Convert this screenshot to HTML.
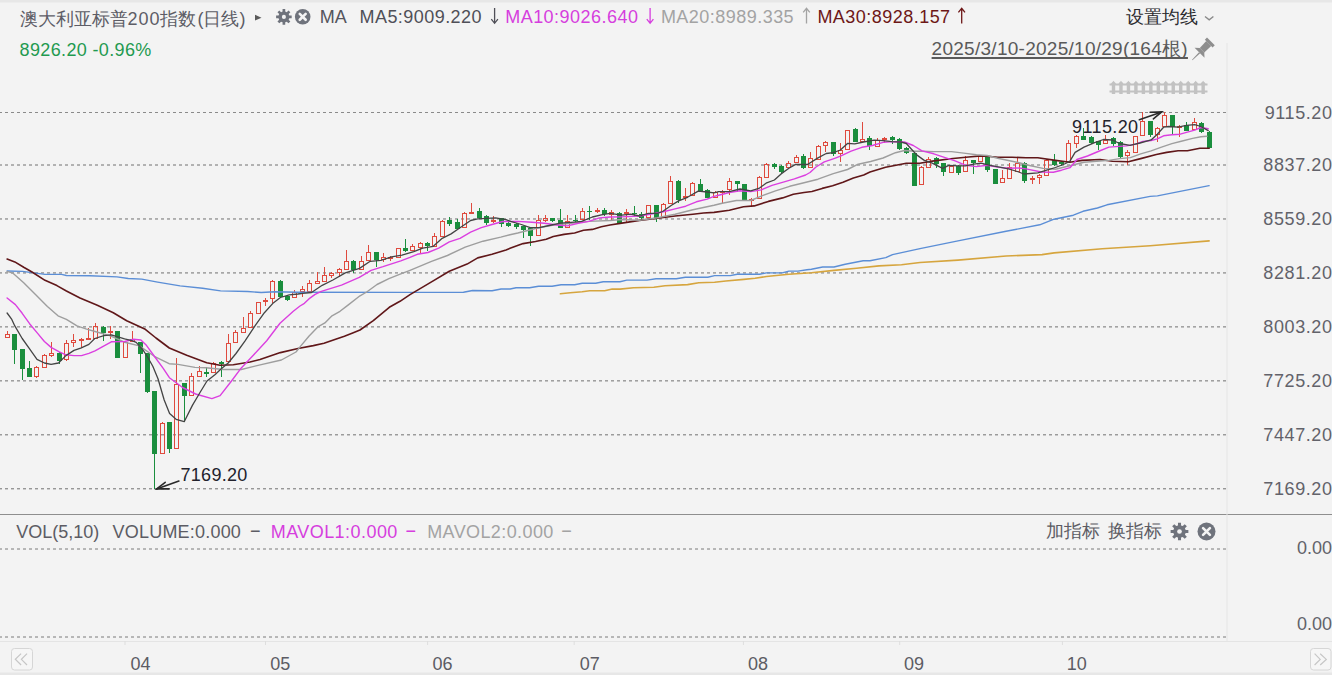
<!DOCTYPE html>
<html><head><meta charset="utf-8"><style>
html,body{margin:0;padding:0;}
body{width:1332px;height:675px;overflow:hidden;background:#f3f3f3;position:relative;font-family:"Liberation Sans",sans-serif;}
svg{position:absolute;left:0;top:0;}
.t{position:absolute;white-space:nowrap;line-height:24px;}
.ra{right:0;}
</style></head><body>
<svg width="1332" height="675" viewBox="0 0 1332 675">
<line x1="-1" y1="112.5" x2="1226" y2="112.5" stroke="#8a8a8a" stroke-width="1" stroke-dasharray="3 3"/>
<line x1="-1" y1="165" x2="1226" y2="165" stroke="#707070" stroke-width="1" stroke-dasharray="3 3"/>
<line x1="-1" y1="218.97" x2="1226" y2="218.97" stroke="#707070" stroke-width="1" stroke-dasharray="3 3"/>
<line x1="-1" y1="272.93" x2="1226" y2="272.93" stroke="#707070" stroke-width="1" stroke-dasharray="3 3"/>
<line x1="-1" y1="326.9" x2="1226" y2="326.9" stroke="#707070" stroke-width="1" stroke-dasharray="3 3"/>
<line x1="-1" y1="380.87" x2="1226" y2="380.87" stroke="#707070" stroke-width="1" stroke-dasharray="3 3"/>
<line x1="-1" y1="434.83" x2="1226" y2="434.83" stroke="#707070" stroke-width="1" stroke-dasharray="3 3"/>
<line x1="-1" y1="488.8" x2="1226" y2="488.8" stroke="#707070" stroke-width="1" stroke-dasharray="3 3"/>
<line x1="-1" y1="549" x2="1226" y2="549" stroke="#7a7a7a" stroke-width="1" stroke-dasharray="3 3"/>
<line x1="-1" y1="637" x2="1226" y2="637" stroke="#7a7a7a" stroke-width="1" stroke-dasharray="3 3"/>
<rect x="7" y="331" width="1" height="3" fill="#df4a3e"/>
<rect x="5.5" y="334.5" width="4" height="3" fill="none" stroke="#df4a3e" stroke-width="1"/>
<rect x="14" y="334" width="1" height="30" fill="#1a8e3d"/>
<rect x="12" y="334" width="5" height="16" fill="#1a8e3d"/>
<rect x="22" y="349" width="1" height="31" fill="#1a8e3d"/>
<rect x="20" y="349" width="5" height="20" fill="#1a8e3d"/>
<rect x="29" y="361" width="1" height="16" fill="#1a8e3d"/>
<rect x="27" y="368" width="5" height="9" fill="#1a8e3d"/>
<rect x="36" y="366" width="1" height="1" fill="#df4a3e"/>
<rect x="36" y="377" width="1" height="1" fill="#df4a3e"/>
<rect x="34.5" y="367.5" width="4" height="9" fill="none" stroke="#df4a3e" stroke-width="1"/>
<rect x="44" y="354" width="1" height="1" fill="#df4a3e"/>
<rect x="42.5" y="355.5" width="4" height="12" fill="none" stroke="#df4a3e" stroke-width="1"/>
<rect x="51" y="342" width="1" height="11" fill="#df4a3e"/>
<rect x="51" y="356" width="1" height="1" fill="#df4a3e"/>
<rect x="49.5" y="353.5" width="4" height="2" fill="none" stroke="#df4a3e" stroke-width="1"/>
<rect x="59" y="352" width="1" height="12" fill="#1a8e3d"/>
<rect x="57" y="353" width="5" height="8" fill="#1a8e3d"/>
<rect x="66" y="340" width="1" height="3" fill="#df4a3e"/>
<rect x="66" y="360" width="1" height="1" fill="#df4a3e"/>
<rect x="64.5" y="343.5" width="4" height="16" fill="none" stroke="#df4a3e" stroke-width="1"/>
<rect x="73" y="334" width="1" height="6" fill="#df4a3e"/>
<rect x="73" y="343" width="1" height="4" fill="#df4a3e"/>
<rect x="71.5" y="340.5" width="4" height="2" fill="none" stroke="#df4a3e" stroke-width="1"/>
<rect x="81" y="338" width="1" height="1" fill="#df4a3e"/>
<rect x="81" y="340" width="1" height="7" fill="#df4a3e"/>
<rect x="79" y="339" width="5" height="2" fill="#df4a3e"/>
<rect x="88" y="328" width="1" height="10" fill="#df4a3e"/>
<rect x="86" y="338" width="5" height="2" fill="#df4a3e"/>
<rect x="95" y="323" width="1" height="3" fill="#df4a3e"/>
<rect x="93.5" y="326.5" width="4" height="12" fill="none" stroke="#df4a3e" stroke-width="1"/>
<rect x="103" y="326" width="1" height="15" fill="#1a8e3d"/>
<rect x="101" y="327" width="5" height="6" fill="#1a8e3d"/>
<rect x="110" y="326" width="1" height="5" fill="#df4a3e"/>
<rect x="110" y="333" width="1" height="6" fill="#df4a3e"/>
<rect x="108" y="331" width="5" height="2" fill="#df4a3e"/>
<rect x="117" y="331" width="1" height="27" fill="#1a8e3d"/>
<rect x="115" y="331" width="5" height="27" fill="#1a8e3d"/>
<rect x="123.5" y="342.5" width="4" height="15" fill="none" stroke="#df4a3e" stroke-width="1"/>
<rect x="132" y="331" width="1" height="8" fill="#df4a3e"/>
<rect x="130.5" y="339.5" width="4" height="2" fill="none" stroke="#df4a3e" stroke-width="1"/>
<rect x="140" y="342" width="1" height="31" fill="#1a8e3d"/>
<rect x="138" y="342" width="5" height="12" fill="#1a8e3d"/>
<rect x="147" y="353" width="1" height="40" fill="#1a8e3d"/>
<rect x="145" y="353" width="5" height="39" fill="#1a8e3d"/>
<rect x="154" y="391" width="1" height="98" fill="#1a8e3d"/>
<rect x="152" y="391" width="5" height="63" fill="#1a8e3d"/>
<rect x="162" y="422" width="1" height="1" fill="#df4a3e"/>
<rect x="160.5" y="423.5" width="4" height="30" fill="none" stroke="#df4a3e" stroke-width="1"/>
<rect x="169" y="422" width="1" height="31" fill="#1a8e3d"/>
<rect x="167" y="422" width="5" height="27" fill="#1a8e3d"/>
<rect x="176" y="358" width="1" height="26" fill="#df4a3e"/>
<rect x="174.5" y="384.5" width="4" height="64" fill="none" stroke="#df4a3e" stroke-width="1"/>
<rect x="184" y="383" width="1" height="39" fill="#1a8e3d"/>
<rect x="182" y="383" width="5" height="13" fill="#1a8e3d"/>
<rect x="191" y="373" width="1" height="3" fill="#df4a3e"/>
<rect x="189.5" y="376.5" width="4" height="19" fill="none" stroke="#df4a3e" stroke-width="1"/>
<rect x="199" y="366" width="1" height="5" fill="#df4a3e"/>
<rect x="197.5" y="371.5" width="4" height="5" fill="none" stroke="#df4a3e" stroke-width="1"/>
<rect x="206" y="367" width="1" height="10" fill="#1a8e3d"/>
<rect x="204" y="372" width="5" height="2" fill="#1a8e3d"/>
<rect x="213" y="362" width="1" height="1" fill="#df4a3e"/>
<rect x="211.5" y="363.5" width="4" height="9" fill="none" stroke="#df4a3e" stroke-width="1"/>
<rect x="221" y="361" width="1" height="16" fill="#1a8e3d"/>
<rect x="219" y="362" width="5" height="2" fill="#1a8e3d"/>
<rect x="228" y="334" width="1" height="9" fill="#df4a3e"/>
<rect x="226.5" y="343.5" width="4" height="18" fill="none" stroke="#df4a3e" stroke-width="1"/>
<rect x="235" y="330" width="1" height="2" fill="#df4a3e"/>
<rect x="233.5" y="332.5" width="4" height="10" fill="none" stroke="#df4a3e" stroke-width="1"/>
<rect x="243" y="317" width="1" height="11" fill="#df4a3e"/>
<rect x="241.5" y="328.5" width="4" height="4" fill="none" stroke="#df4a3e" stroke-width="1"/>
<rect x="250" y="311" width="1" height="2" fill="#df4a3e"/>
<rect x="248.5" y="313.5" width="4" height="14" fill="none" stroke="#df4a3e" stroke-width="1"/>
<rect x="256.5" y="302.5" width="4" height="11" fill="none" stroke="#df4a3e" stroke-width="1"/>
<rect x="265" y="298" width="1" height="2" fill="#df4a3e"/>
<rect x="265" y="302" width="1" height="4" fill="#df4a3e"/>
<rect x="263" y="300" width="5" height="2" fill="#df4a3e"/>
<rect x="272" y="280" width="1" height="1" fill="#df4a3e"/>
<rect x="272" y="299" width="1" height="4" fill="#df4a3e"/>
<rect x="270.5" y="281.5" width="4" height="17" fill="none" stroke="#df4a3e" stroke-width="1"/>
<rect x="280" y="280" width="1" height="18" fill="#1a8e3d"/>
<rect x="278" y="281" width="5" height="16" fill="#1a8e3d"/>
<rect x="287" y="295" width="1" height="6" fill="#1a8e3d"/>
<rect x="285" y="296" width="5" height="4" fill="#1a8e3d"/>
<rect x="294" y="290" width="1" height="2" fill="#df4a3e"/>
<rect x="292.5" y="292.5" width="4" height="5" fill="none" stroke="#df4a3e" stroke-width="1"/>
<rect x="302" y="286" width="1" height="3" fill="#df4a3e"/>
<rect x="302" y="292" width="1" height="5" fill="#df4a3e"/>
<rect x="300.5" y="289.5" width="4" height="2" fill="none" stroke="#df4a3e" stroke-width="1"/>
<rect x="309" y="280" width="1" height="3" fill="#df4a3e"/>
<rect x="307.5" y="283.5" width="4" height="8" fill="none" stroke="#df4a3e" stroke-width="1"/>
<rect x="317" y="272" width="1" height="9" fill="#df4a3e"/>
<rect x="315.5" y="281.5" width="4" height="2" fill="none" stroke="#df4a3e" stroke-width="1"/>
<rect x="324" y="267" width="1" height="8" fill="#df4a3e"/>
<rect x="322.5" y="275.5" width="4" height="6" fill="none" stroke="#df4a3e" stroke-width="1"/>
<rect x="331" y="272" width="1" height="1" fill="#df4a3e"/>
<rect x="331" y="276" width="1" height="2" fill="#df4a3e"/>
<rect x="329.5" y="273.5" width="4" height="2" fill="none" stroke="#df4a3e" stroke-width="1"/>
<rect x="339" y="268" width="1" height="1" fill="#df4a3e"/>
<rect x="339" y="273" width="1" height="4" fill="#df4a3e"/>
<rect x="337.5" y="269.5" width="4" height="3" fill="none" stroke="#df4a3e" stroke-width="1"/>
<rect x="346" y="250" width="1" height="11" fill="#df4a3e"/>
<rect x="344.5" y="261.5" width="4" height="8" fill="none" stroke="#df4a3e" stroke-width="1"/>
<rect x="353" y="260" width="1" height="13" fill="#1a8e3d"/>
<rect x="351" y="261" width="5" height="9" fill="#1a8e3d"/>
<rect x="361" y="256" width="1" height="5" fill="#df4a3e"/>
<rect x="359.5" y="261.5" width="4" height="8" fill="none" stroke="#df4a3e" stroke-width="1"/>
<rect x="368" y="245" width="1" height="7" fill="#df4a3e"/>
<rect x="366.5" y="252.5" width="4" height="8" fill="none" stroke="#df4a3e" stroke-width="1"/>
<rect x="376" y="252" width="1" height="15" fill="#1a8e3d"/>
<rect x="374" y="252" width="5" height="8" fill="#1a8e3d"/>
<rect x="383" y="253" width="1" height="4" fill="#df4a3e"/>
<rect x="383" y="260" width="1" height="2" fill="#df4a3e"/>
<rect x="381.5" y="257.5" width="4" height="2" fill="none" stroke="#df4a3e" stroke-width="1"/>
<rect x="390" y="256" width="1" height="1" fill="#df4a3e"/>
<rect x="390" y="259" width="1" height="2" fill="#df4a3e"/>
<rect x="388" y="257" width="5" height="2" fill="#df4a3e"/>
<rect x="396.5" y="248.5" width="4" height="9" fill="none" stroke="#df4a3e" stroke-width="1"/>
<rect x="405" y="239" width="1" height="13" fill="#1a8e3d"/>
<rect x="403" y="248" width="5" height="3" fill="#1a8e3d"/>
<rect x="412" y="244" width="1" height="2" fill="#df4a3e"/>
<rect x="410.5" y="246.5" width="4" height="4" fill="none" stroke="#df4a3e" stroke-width="1"/>
<rect x="420" y="242" width="1" height="1" fill="#df4a3e"/>
<rect x="420" y="248" width="1" height="5" fill="#df4a3e"/>
<rect x="418.5" y="243.5" width="4" height="4" fill="none" stroke="#df4a3e" stroke-width="1"/>
<rect x="427" y="242" width="1" height="9" fill="#1a8e3d"/>
<rect x="425" y="243" width="5" height="3" fill="#1a8e3d"/>
<rect x="434" y="233" width="1" height="3" fill="#df4a3e"/>
<rect x="432.5" y="236.5" width="4" height="10" fill="none" stroke="#df4a3e" stroke-width="1"/>
<rect x="442" y="220" width="1" height="1" fill="#df4a3e"/>
<rect x="440.5" y="221.5" width="4" height="15" fill="none" stroke="#df4a3e" stroke-width="1"/>
<rect x="449" y="217" width="1" height="9" fill="#1a8e3d"/>
<rect x="447" y="220" width="5" height="4" fill="#1a8e3d"/>
<rect x="457" y="219" width="1" height="10" fill="#1a8e3d"/>
<rect x="455" y="222" width="5" height="7" fill="#1a8e3d"/>
<rect x="464" y="212" width="1" height="1" fill="#df4a3e"/>
<rect x="462.5" y="213.5" width="4" height="14" fill="none" stroke="#df4a3e" stroke-width="1"/>
<rect x="471" y="203" width="1" height="9" fill="#df4a3e"/>
<rect x="469" y="212" width="5" height="2" fill="#df4a3e"/>
<rect x="479" y="208" width="1" height="11" fill="#1a8e3d"/>
<rect x="477" y="211" width="5" height="7" fill="#1a8e3d"/>
<rect x="486" y="215" width="1" height="10" fill="#1a8e3d"/>
<rect x="484" y="216" width="5" height="7" fill="#1a8e3d"/>
<rect x="493" y="216" width="1" height="4" fill="#df4a3e"/>
<rect x="493" y="222" width="1" height="1" fill="#df4a3e"/>
<rect x="491" y="220" width="5" height="2" fill="#df4a3e"/>
<rect x="501" y="218" width="1" height="9" fill="#1a8e3d"/>
<rect x="499" y="218" width="5" height="6" fill="#1a8e3d"/>
<rect x="508" y="222" width="1" height="5" fill="#1a8e3d"/>
<rect x="506" y="223" width="5" height="3" fill="#1a8e3d"/>
<rect x="516" y="223" width="1" height="6" fill="#1a8e3d"/>
<rect x="514" y="224" width="5" height="3" fill="#1a8e3d"/>
<rect x="523" y="226" width="1" height="12" fill="#1a8e3d"/>
<rect x="521" y="226" width="5" height="4" fill="#1a8e3d"/>
<rect x="530" y="228" width="1" height="18" fill="#1a8e3d"/>
<rect x="528" y="228" width="5" height="8" fill="#1a8e3d"/>
<rect x="538" y="215" width="1" height="5" fill="#df4a3e"/>
<rect x="536.5" y="220.5" width="4" height="15" fill="none" stroke="#df4a3e" stroke-width="1"/>
<rect x="545" y="215" width="1" height="3" fill="#df4a3e"/>
<rect x="545" y="221" width="1" height="1" fill="#df4a3e"/>
<rect x="543.5" y="218.5" width="4" height="2" fill="none" stroke="#df4a3e" stroke-width="1"/>
<rect x="552" y="218" width="1" height="4" fill="#1a8e3d"/>
<rect x="550" y="218" width="5" height="3" fill="#1a8e3d"/>
<rect x="560" y="209" width="1" height="19" fill="#1a8e3d"/>
<rect x="558" y="220" width="5" height="8" fill="#1a8e3d"/>
<rect x="567" y="215" width="1" height="6" fill="#df4a3e"/>
<rect x="565.5" y="221.5" width="4" height="6" fill="none" stroke="#df4a3e" stroke-width="1"/>
<rect x="575" y="215" width="1" height="7" fill="#1a8e3d"/>
<rect x="573" y="220" width="5" height="1" fill="#1a8e3d"/>
<rect x="582" y="208" width="1" height="3" fill="#df4a3e"/>
<rect x="580.5" y="211.5" width="4" height="8" fill="none" stroke="#df4a3e" stroke-width="1"/>
<rect x="589" y="206" width="1" height="14" fill="#1a8e3d"/>
<rect x="587" y="211" width="5" height="1" fill="#1a8e3d"/>
<rect x="597" y="208" width="1" height="2" fill="#df4a3e"/>
<rect x="597" y="212" width="1" height="1" fill="#df4a3e"/>
<rect x="595" y="210" width="5" height="2" fill="#df4a3e"/>
<rect x="604" y="208" width="1" height="8" fill="#1a8e3d"/>
<rect x="602" y="210" width="5" height="4" fill="#1a8e3d"/>
<rect x="611" y="210" width="1" height="2" fill="#df4a3e"/>
<rect x="611" y="215" width="1" height="5" fill="#df4a3e"/>
<rect x="609.5" y="212.5" width="4" height="2" fill="none" stroke="#df4a3e" stroke-width="1"/>
<rect x="619" y="212" width="1" height="12" fill="#1a8e3d"/>
<rect x="617" y="213" width="5" height="10" fill="#1a8e3d"/>
<rect x="626" y="209" width="1" height="3" fill="#df4a3e"/>
<rect x="626" y="214" width="1" height="8" fill="#df4a3e"/>
<rect x="624" y="212" width="5" height="2" fill="#df4a3e"/>
<rect x="634" y="206" width="1" height="11" fill="#1a8e3d"/>
<rect x="632" y="213" width="5" height="1" fill="#1a8e3d"/>
<rect x="641" y="212" width="1" height="8" fill="#1a8e3d"/>
<rect x="639" y="214" width="5" height="4" fill="#1a8e3d"/>
<rect x="646.5" y="205.5" width="4" height="12" fill="none" stroke="#df4a3e" stroke-width="1"/>
<rect x="656" y="205" width="1" height="17" fill="#1a8e3d"/>
<rect x="654" y="205" width="5" height="13" fill="#1a8e3d"/>
<rect x="663" y="203" width="1" height="1" fill="#df4a3e"/>
<rect x="661.5" y="204.5" width="4" height="12" fill="none" stroke="#df4a3e" stroke-width="1"/>
<rect x="670" y="176" width="1" height="5" fill="#df4a3e"/>
<rect x="668.5" y="181.5" width="4" height="22" fill="none" stroke="#df4a3e" stroke-width="1"/>
<rect x="678" y="180" width="1" height="23" fill="#1a8e3d"/>
<rect x="676" y="181" width="5" height="19" fill="#1a8e3d"/>
<rect x="685" y="188" width="1" height="8" fill="#df4a3e"/>
<rect x="685" y="198" width="1" height="3" fill="#df4a3e"/>
<rect x="683" y="196" width="5" height="2" fill="#df4a3e"/>
<rect x="692" y="182" width="1" height="1" fill="#df4a3e"/>
<rect x="690.5" y="183.5" width="4" height="12" fill="none" stroke="#df4a3e" stroke-width="1"/>
<rect x="700" y="179" width="1" height="13" fill="#1a8e3d"/>
<rect x="698" y="184" width="5" height="7" fill="#1a8e3d"/>
<rect x="707" y="189" width="1" height="9" fill="#1a8e3d"/>
<rect x="705" y="190" width="5" height="8" fill="#1a8e3d"/>
<rect x="715" y="191" width="1" height="1" fill="#df4a3e"/>
<rect x="713.5" y="192.5" width="4" height="5" fill="none" stroke="#df4a3e" stroke-width="1"/>
<rect x="722" y="190" width="1" height="1" fill="#df4a3e"/>
<rect x="722" y="192" width="1" height="11" fill="#df4a3e"/>
<rect x="720" y="191" width="5" height="2" fill="#df4a3e"/>
<rect x="729" y="178" width="1" height="3" fill="#df4a3e"/>
<rect x="729" y="190" width="1" height="5" fill="#df4a3e"/>
<rect x="727.5" y="181.5" width="4" height="8" fill="none" stroke="#df4a3e" stroke-width="1"/>
<rect x="737" y="181" width="1" height="11" fill="#1a8e3d"/>
<rect x="735" y="181" width="5" height="3" fill="#1a8e3d"/>
<rect x="744" y="184" width="1" height="16" fill="#1a8e3d"/>
<rect x="742" y="184" width="5" height="16" fill="#1a8e3d"/>
<rect x="751" y="198" width="1" height="1" fill="#df4a3e"/>
<rect x="751" y="200" width="1" height="7" fill="#df4a3e"/>
<rect x="749" y="199" width="5" height="2" fill="#df4a3e"/>
<rect x="759" y="176" width="1" height="1" fill="#df4a3e"/>
<rect x="757.5" y="177.5" width="4" height="21" fill="none" stroke="#df4a3e" stroke-width="1"/>
<rect x="766" y="163" width="1" height="1" fill="#df4a3e"/>
<rect x="764.5" y="164.5" width="4" height="13" fill="none" stroke="#df4a3e" stroke-width="1"/>
<rect x="774" y="163" width="1" height="6" fill="#1a8e3d"/>
<rect x="772" y="164" width="5" height="3" fill="#1a8e3d"/>
<rect x="781" y="165" width="1" height="9" fill="#1a8e3d"/>
<rect x="779" y="166" width="5" height="6" fill="#1a8e3d"/>
<rect x="788" y="161" width="1" height="2" fill="#df4a3e"/>
<rect x="786.5" y="163.5" width="4" height="4" fill="none" stroke="#df4a3e" stroke-width="1"/>
<rect x="796" y="155" width="1" height="2" fill="#df4a3e"/>
<rect x="794.5" y="157.5" width="4" height="5" fill="none" stroke="#df4a3e" stroke-width="1"/>
<rect x="803" y="154" width="1" height="15" fill="#1a8e3d"/>
<rect x="801" y="156" width="5" height="12" fill="#1a8e3d"/>
<rect x="810" y="152" width="1" height="6" fill="#df4a3e"/>
<rect x="808.5" y="158.5" width="4" height="9" fill="none" stroke="#df4a3e" stroke-width="1"/>
<rect x="818" y="145" width="1" height="1" fill="#df4a3e"/>
<rect x="816.5" y="146.5" width="4" height="13" fill="none" stroke="#df4a3e" stroke-width="1"/>
<rect x="825" y="141" width="1" height="1" fill="#df4a3e"/>
<rect x="825" y="146" width="1" height="6" fill="#df4a3e"/>
<rect x="823.5" y="142.5" width="4" height="3" fill="none" stroke="#df4a3e" stroke-width="1"/>
<rect x="833" y="142" width="1" height="14" fill="#1a8e3d"/>
<rect x="831" y="142" width="5" height="12" fill="#1a8e3d"/>
<rect x="840" y="143" width="1" height="7" fill="#df4a3e"/>
<rect x="840" y="154" width="1" height="8" fill="#df4a3e"/>
<rect x="838.5" y="150.5" width="4" height="3" fill="none" stroke="#df4a3e" stroke-width="1"/>
<rect x="845.5" y="130.5" width="4" height="19" fill="none" stroke="#df4a3e" stroke-width="1"/>
<rect x="855" y="128" width="1" height="14" fill="#1a8e3d"/>
<rect x="853" y="129" width="5" height="13" fill="#1a8e3d"/>
<rect x="862" y="122" width="1" height="17" fill="#df4a3e"/>
<rect x="860.5" y="139.5" width="4" height="2" fill="none" stroke="#df4a3e" stroke-width="1"/>
<rect x="869" y="136" width="1" height="14" fill="#1a8e3d"/>
<rect x="867" y="138" width="5" height="8" fill="#1a8e3d"/>
<rect x="877" y="138" width="1" height="2" fill="#df4a3e"/>
<rect x="875.5" y="140.5" width="4" height="6" fill="none" stroke="#df4a3e" stroke-width="1"/>
<rect x="884" y="137" width="1" height="1" fill="#df4a3e"/>
<rect x="884" y="140" width="1" height="3" fill="#df4a3e"/>
<rect x="882" y="138" width="5" height="2" fill="#df4a3e"/>
<rect x="892" y="136" width="1" height="8" fill="#1a8e3d"/>
<rect x="890" y="137" width="5" height="3" fill="#1a8e3d"/>
<rect x="899" y="138" width="1" height="12" fill="#1a8e3d"/>
<rect x="897" y="139" width="5" height="10" fill="#1a8e3d"/>
<rect x="906" y="147" width="1" height="7" fill="#1a8e3d"/>
<rect x="904" y="148" width="5" height="5" fill="#1a8e3d"/>
<rect x="914" y="152" width="1" height="34" fill="#1a8e3d"/>
<rect x="912" y="153" width="5" height="33" fill="#1a8e3d"/>
<rect x="921" y="166" width="1" height="1" fill="#df4a3e"/>
<rect x="919.5" y="167.5" width="4" height="17" fill="none" stroke="#df4a3e" stroke-width="1"/>
<rect x="928" y="157" width="1" height="2" fill="#df4a3e"/>
<rect x="926.5" y="159.5" width="4" height="8" fill="none" stroke="#df4a3e" stroke-width="1"/>
<rect x="936" y="157" width="1" height="11" fill="#1a8e3d"/>
<rect x="934" y="158" width="5" height="6" fill="#1a8e3d"/>
<rect x="943" y="163" width="1" height="13" fill="#1a8e3d"/>
<rect x="941" y="163" width="5" height="9" fill="#1a8e3d"/>
<rect x="951" y="165" width="1" height="1" fill="#df4a3e"/>
<rect x="949.5" y="166.5" width="4" height="6" fill="none" stroke="#df4a3e" stroke-width="1"/>
<rect x="958" y="165" width="1" height="10" fill="#1a8e3d"/>
<rect x="956" y="166" width="5" height="7" fill="#1a8e3d"/>
<rect x="965" y="156" width="1" height="4" fill="#df4a3e"/>
<rect x="963.5" y="160.5" width="4" height="11" fill="none" stroke="#df4a3e" stroke-width="1"/>
<rect x="973" y="160" width="1" height="14" fill="#1a8e3d"/>
<rect x="971" y="160" width="5" height="3" fill="#1a8e3d"/>
<rect x="980" y="155" width="1" height="1" fill="#df4a3e"/>
<rect x="978.5" y="156.5" width="4" height="5" fill="none" stroke="#df4a3e" stroke-width="1"/>
<rect x="987" y="157" width="1" height="15" fill="#1a8e3d"/>
<rect x="985" y="157" width="5" height="13" fill="#1a8e3d"/>
<rect x="995" y="169" width="1" height="15" fill="#1a8e3d"/>
<rect x="993" y="169" width="5" height="15" fill="#1a8e3d"/>
<rect x="1002" y="170" width="1" height="8" fill="#df4a3e"/>
<rect x="1000.5" y="178.5" width="4" height="4" fill="none" stroke="#df4a3e" stroke-width="1"/>
<rect x="1009" y="163" width="1" height="4" fill="#df4a3e"/>
<rect x="1007.5" y="167.5" width="4" height="11" fill="none" stroke="#df4a3e" stroke-width="1"/>
<rect x="1017" y="157" width="1" height="6" fill="#df4a3e"/>
<rect x="1015.5" y="163.5" width="4" height="8" fill="none" stroke="#df4a3e" stroke-width="1"/>
<rect x="1024" y="162" width="1" height="21" fill="#1a8e3d"/>
<rect x="1022" y="163" width="5" height="18" fill="#1a8e3d"/>
<rect x="1032" y="176" width="1" height="2" fill="#df4a3e"/>
<rect x="1032" y="180" width="1" height="4" fill="#df4a3e"/>
<rect x="1030" y="178" width="5" height="2" fill="#df4a3e"/>
<rect x="1039" y="174" width="1" height="1" fill="#df4a3e"/>
<rect x="1039" y="178" width="1" height="6" fill="#df4a3e"/>
<rect x="1037.5" y="175.5" width="4" height="2" fill="none" stroke="#df4a3e" stroke-width="1"/>
<rect x="1046" y="159" width="1" height="1" fill="#df4a3e"/>
<rect x="1044.5" y="160.5" width="4" height="15" fill="none" stroke="#df4a3e" stroke-width="1"/>
<rect x="1054" y="154" width="1" height="12" fill="#1a8e3d"/>
<rect x="1052" y="160" width="5" height="5" fill="#1a8e3d"/>
<rect x="1061" y="161" width="1" height="5" fill="#1a8e3d"/>
<rect x="1059" y="162" width="5" height="2" fill="#1a8e3d"/>
<rect x="1068" y="140" width="1" height="3" fill="#df4a3e"/>
<rect x="1068" y="162" width="1" height="1" fill="#df4a3e"/>
<rect x="1066.5" y="143.5" width="4" height="18" fill="none" stroke="#df4a3e" stroke-width="1"/>
<rect x="1076" y="135" width="1" height="1" fill="#df4a3e"/>
<rect x="1076" y="144" width="1" height="4" fill="#df4a3e"/>
<rect x="1074.5" y="136.5" width="4" height="7" fill="none" stroke="#df4a3e" stroke-width="1"/>
<rect x="1083" y="128" width="1" height="12" fill="#1a8e3d"/>
<rect x="1081" y="136" width="5" height="4" fill="#1a8e3d"/>
<rect x="1091" y="136" width="1" height="8" fill="#1a8e3d"/>
<rect x="1089" y="137" width="5" height="6" fill="#1a8e3d"/>
<rect x="1098" y="141" width="1" height="9" fill="#1a8e3d"/>
<rect x="1096" y="141" width="5" height="4" fill="#1a8e3d"/>
<rect x="1105" y="135" width="1" height="5" fill="#df4a3e"/>
<rect x="1103.5" y="140.5" width="4" height="3" fill="none" stroke="#df4a3e" stroke-width="1"/>
<rect x="1113" y="137" width="1" height="9" fill="#1a8e3d"/>
<rect x="1111" y="138" width="5" height="6" fill="#1a8e3d"/>
<rect x="1120" y="141" width="1" height="17" fill="#1a8e3d"/>
<rect x="1118" y="142" width="5" height="15" fill="#1a8e3d"/>
<rect x="1127" y="150" width="1" height="2" fill="#df4a3e"/>
<rect x="1127" y="156" width="1" height="9" fill="#df4a3e"/>
<rect x="1125.5" y="152.5" width="4" height="3" fill="none" stroke="#df4a3e" stroke-width="1"/>
<rect x="1133.5" y="136.5" width="4" height="16" fill="none" stroke="#df4a3e" stroke-width="1"/>
<rect x="1142" y="112" width="1" height="9" fill="#df4a3e"/>
<rect x="1140.5" y="121.5" width="4" height="14" fill="none" stroke="#df4a3e" stroke-width="1"/>
<rect x="1150" y="121" width="1" height="16" fill="#1a8e3d"/>
<rect x="1148" y="121" width="5" height="14" fill="#1a8e3d"/>
<rect x="1157" y="127" width="1" height="1" fill="#df4a3e"/>
<rect x="1157" y="135" width="1" height="7" fill="#df4a3e"/>
<rect x="1155.5" y="128.5" width="4" height="6" fill="none" stroke="#df4a3e" stroke-width="1"/>
<rect x="1164" y="112" width="1" height="3" fill="#df4a3e"/>
<rect x="1162.5" y="115.5" width="4" height="11" fill="none" stroke="#df4a3e" stroke-width="1"/>
<rect x="1172" y="115" width="1" height="19" fill="#1a8e3d"/>
<rect x="1170" y="115" width="5" height="12" fill="#1a8e3d"/>
<rect x="1179" y="125" width="1" height="1" fill="#df4a3e"/>
<rect x="1179" y="128" width="1" height="9" fill="#df4a3e"/>
<rect x="1177" y="126" width="5" height="2" fill="#df4a3e"/>
<rect x="1186" y="122" width="1" height="9" fill="#1a8e3d"/>
<rect x="1184" y="125" width="5" height="6" fill="#1a8e3d"/>
<rect x="1194" y="118" width="1" height="4" fill="#df4a3e"/>
<rect x="1192.5" y="122.5" width="4" height="7" fill="none" stroke="#df4a3e" stroke-width="1"/>
<rect x="1201" y="122" width="1" height="11" fill="#1a8e3d"/>
<rect x="1199" y="123" width="5" height="9" fill="#1a8e3d"/>
<rect x="1209" y="131" width="1" height="17" fill="#1a8e3d"/>
<rect x="1207" y="132" width="5" height="16" fill="#1a8e3d"/>
<polyline points="560.4,293.8 570.2,292.8 582.2,291.7 589.7,290.8 604.7,290.8 612.2,289 620,289.1 633.5,287.7 653.8,287.3 665,285.7 687.6,284.6 698.8,282.8 714.6,282.3 725.9,281 743.9,279.4 755.1,278.3 766.4,276.5 788.9,274.2 811.4,272.7 834,270.4 856.5,268.2 879,265.9 901.5,264.8 920,262.5 958,260.1 1006.1,256 1042.1,254.6 1054.1,252.9 1102.2,248.8 1150.2,245.7 1209.1,240.9" fill="none" stroke="#d6a53e" stroke-width="1.6" stroke-linejoin="round" stroke-linecap="round"/>
<polyline points="7.1,271 22.5,271.4 45,274.4 61.6,274.4 66.4,275.5 90,275.8 117,276.9 128.3,278.5 141.8,279.1 157.6,282.1 180.1,285.9 202.6,288.2 220.6,290.9 247.7,291.5 261.2,292.5 274.7,291.8 298,292.2 402,292.4 463.5,292.3 472.6,290.5 492.1,290.8 501.1,289 510.1,289 516.1,287.8 529.6,287.8 538.6,286.3 552.1,286.3 561.1,284.8 574.7,284.8 582.2,283.3 595.7,283.3 603.2,281.8 620,281.7 626.8,280.1 647,280.1 656,278.7 676.3,278.7 685.3,277.2 707.8,277.2 714.6,275.6 730.4,275.6 737.1,274.2 759.6,274.2 766.4,272.9 782.2,272.9 788.9,271.1 797.9,271.1 806.9,269.7 811.4,269.3 822.7,267 834,267 845.2,264.3 863.2,260.7 870,260.7 885.8,257.6 892.5,254.6 920,248.6 958,240.9 1006.1,231.3 1039.7,224.8 1054.1,219.2 1073.4,215.2 1083,211.3 1097.4,208 1107,204.8 1150.2,196.4 1157.4,195.9 1209.1,185.6" fill="none" stroke="#5b8ed6" stroke-width="1.4" stroke-linejoin="round" stroke-linecap="round"/>
<polyline points="7.1,259 14.8,261.9 23.7,267.3 32,272 45,280.3 56.9,285.6 66.4,291 80,298 97.3,305.3 113.3,312.7 126.7,320.7 145.3,329.3 156,338 169.3,348 186.7,355.3 206.7,362.7 220,365.3 233.3,364.7 250,362 260,359.5 280.4,352.6 298,348.5 313.3,345.6 324,343.3 335.6,339.3 344.4,336.2 353.3,332.7 360,330 373.3,320.7 389.3,307.3 400,301.3 410,294.6 431.5,281.9 449.3,271.2 467.1,264.1 477.7,257.9 492,254.3 506,249.9 510.7,248.1 523.1,243.6 535.5,241.5 546.2,239.2 553.3,236.5 564,234.4 574.6,233 583.5,230.3 592.4,229.4 601.3,226.8 610,225 621.8,223.1 639.5,220.4 657.3,218.3 675.1,216 692.9,214.2 703.5,213 714,212.4 729.3,210.3 743.5,206.7 754.2,205.9 768.4,201.4 782.6,197.9 793.3,194.3 804,192.5 811.9,191.5 822.2,188.4 832.6,185.8 843,182.2 853.4,178 863.7,174.9 870,172 885.6,167.3 906.3,163.2 919.8,163.2 932.2,161.1 953,158.5 968.5,157 981,155.9 990,156.5 997.7,157.3 1012,157.3 1026,157.7 1037.8,157.8 1055.5,160.4 1069.8,162.2 1082.2,160.4 1100,159.5 1112.4,161.3 1128.3,161.7 1140.7,158.6 1156.3,154.5 1166.7,152.4 1178.1,150.8 1187.4,150.8 1199.9,148.2 1209.2,148.2" fill="none" stroke="#601719" stroke-width="1.6" stroke-linejoin="round" stroke-linecap="round"/>
<polyline points="7.1,271.4 13,273.2 23.7,282.7 35.5,294.5 47.4,306.4 58,315.8 66.4,319.4 77,325.9 85.9,328.9 95,331.5 109.8,335.6 124.6,342.2 139.4,345.9 154.3,356.3 169.1,363.7 178,364.4 195,367.4 205.8,367.7 223.5,369.5 241.3,369.5 259.1,365.1 281.4,360 296,352 300,346.9 308.9,336.2 317.8,326.9 324.9,322.9 332,315.8 340,311.3 348,305.1 360,295.8 366.7,292 377,284.5 388.9,278.6 400.8,273.9 410,270.3 431.5,261.4 447.4,255.5 465.2,247.2 483,241.2 500.8,237.1 510,234.7 517.8,233 535.5,228.5 553.3,225 571.1,223.2 588.9,221.4 610,220.5 621.8,219.5 639.5,220.4 657.3,217.8 675.1,214.2 692.9,209.8 714,205.3 722.2,203.2 736.4,200.5 750.7,200.5 761.3,196.1 775.5,190.8 789.7,186.3 804,182.8 818,179.2 833.3,173.6 847.5,169.5 858.2,164.2 870.6,161.5 883.1,158 895.5,152.7 904.4,150.5 915.1,151.2 922,151.2 933.8,151.6 951.5,151.6 965.8,153.4 976.4,154.7 987.1,155.5 997.7,158.2 1008.4,160.5 1019.1,162.7 1030.7,165.8 1043.1,168.4 1055.5,169.3 1069.8,165.8 1084,162.2 1096.4,161.3 1108.9,160.4 1119.5,158.6 1130.4,157.6 1140.7,153.9 1151.1,150.8 1161.5,147.2 1171.9,143.6 1182.2,141 1192.6,138.4 1200.9,136.8 1207.1,136.3" fill="none" stroke="#9e9e9e" stroke-width="1.4" stroke-linejoin="round" stroke-linecap="round"/>
<polyline points="7.1,298 15.4,304.6 22.2,313.3 29.6,323.7 37,332.6 44.4,341.5 51.1,347.4 59.3,351.9 65.9,354.8 74,355.6 81.5,355.6 88.9,353.3 95,350.8 111.3,341.8 124.6,341.5 133.5,339.3 140.9,340 146.6,345.6 154.9,357 163.2,368.4 169.4,377.7 182.6,387.5 195.6,394 211.9,398.6 220.1,395.6 231.5,381 241.3,367.9 253.3,355.3 266.7,340.7 280,323.3 293.3,311.3 300,306 304.4,303.3 308.9,298.9 315.1,294.4 321.3,291.3 341.5,285.1 359.3,277.4 371.1,270.3 383,266.7 400.8,260.8 410,257.3 417.3,254.3 428,252.5 438.7,248.1 449.3,241.9 460,238.3 470.6,232.1 481.3,227.7 492,224.5 502.6,221.5 517.8,221.4 532,222.3 544.4,223.2 556.9,225 567.5,225.9 578.2,223.2 588.9,221.4 599.5,217.9 610,217 621.8,216.9 639.5,216 655.5,213.3 664.4,211.5 675.1,208.9 685.7,206.2 696.4,201.8 707.1,199.1 714,196.4 718.7,195.2 729.3,192.5 740,190.8 750.7,191.6 761.3,189.9 772,185.4 783.3,182.2 794.4,178.9 805.6,175 810,172.5 816,167 824.3,161.9 834.7,158.3 840.4,156.2 851.1,151.2 861.8,147.3 872.4,145.5 883.1,142.3 893.7,141.6 904.4,142 913.3,145.5 922,150.9 933.8,153.8 944.4,157.3 955.1,160.9 965.8,165.3 976.4,166.6 987.1,165.3 997.7,167.1 1008.4,168.3 1019.1,168 1026,168.9 1041.3,172 1053.3,172.2 1061.5,170.2 1070,167.7 1076.9,159.5 1087.5,156 1098.2,151.5 1108.9,147.1 1116,146.6 1126.6,145.9 1135.6,144.1 1142.8,141.5 1151.1,140.5 1157.3,138.9 1163.6,135.8 1171.9,134.8 1180.2,134.2 1187.4,132.2 1194.7,130.1 1200.9,127.5 1208.2,128.8" fill="none" stroke="#db3fe0" stroke-width="1.4" stroke-linejoin="round" stroke-linecap="round"/>
<polyline points="7.1,313 11.8,319.4 14.8,325.9 22.2,338.5 29.6,348.9 37,359.3 44.4,363 51.1,364.4 58.5,363 65.9,355.6 74,350.4 80.7,348.1 88.9,344.4 94.8,338.5 103.9,335.6 111.3,334.8 124.6,338.8 132,340.7 136.2,342.4 142.4,349.2 147.6,357 152.8,366.3 158,378.8 164.2,400 169.6,413.6 176.1,419.3 184.2,421.7 192.4,405.4 200,392.5 207,381 215.2,374.4 221,369 228.2,363 236,353.5 244.9,341.1 255.5,325.1 264.4,312.7 273.3,302.9 280.4,297.5 289.3,294.9 298,294 302.7,293.3 311.5,292.5 322.2,285.3 332.9,280 345.3,272.9 359.5,268.4 370.2,261.3 380.9,260.4 391.5,256.9 402,255.1 413.8,251.6 422.7,248.1 433.3,246.3 442.2,238.3 451.1,233.9 460,227.7 470.6,220.5 477.7,218.8 486.6,218.4 495.5,217.9 506,219.7 510.7,221.4 521.3,224.5 530.2,227.7 539.1,227.7 551.5,225 560.4,223.2 571.1,222.3 581.7,221.4 592.4,217 601.3,214.9 610,213.4 621.8,215.1 630.7,214.2 639.5,216 648.4,213.3 657.3,213.3 662.6,211.5 671.5,205.3 678.6,200.9 687.5,197.3 698.2,191.1 707.1,192 714,192.9 718.7,191.6 729.3,191.6 740,189 750.7,190.8 759.5,188.1 766.7,182.8 774.4,180 781.1,173.9 788.9,168.3 795.6,164.4 807.5,164.5 818,157.9 826.2,153.5 833.3,152.7 840.4,150 847.5,143.4 854.7,143.8 863.5,142 874.2,140.2 883.1,140.6 892,141.6 900.9,142 906.3,143.5 911.5,149.2 916.7,154.9 923.9,160.1 932.2,163.2 942.6,168.4 948.8,165.3 958.2,165.8 965.4,165.8 973.7,164.2 981,163.2 990,165.3 999.5,167.1 1008.4,168.9 1017.3,171.5 1024,174 1037.8,172.9 1046.7,170.2 1055.5,167.5 1064.4,164 1069.8,161.3 1075.1,152.4 1084,147.1 1094.6,142.7 1103.5,139.5 1112.4,140 1119.5,143.5 1130,145.3 1140,143 1151.1,139.9 1157.3,134.2 1163.6,127.2 1168.8,126.5 1178.1,127.2 1186.4,125.4 1194.7,124.7 1200.9,126.5 1208.2,130.6" fill="none" stroke="#444444" stroke-width="1.3" stroke-linejoin="round" stroke-linecap="round"/>
<g stroke="#2a2a2a" stroke-width="1.6" fill="none" stroke-linecap="round"><line x1="178.9" y1="481" x2="156.6" y2="488.9"/><polyline points="165.2,482.3 156.6,488.9 169,488.9"/><line x1="1139.3" y1="119.7" x2="1161.7" y2="111.9"/><polyline points="1150.1,112.3 1161.7,111.9 1153.4,118.9"/></g>
<g fill="#c2c2c2">
<rect x="1109.5" y="83.5" width="98" height="2"/>
<rect x="1109.5" y="90.5" width="98" height="2"/>
<rect x="1111.8" y="82.5" width="3.4" height="11.5"/>
<polygon points="1110.5,84.5 1113.5,80.8 1116.5,84.5"/>
<rect x="1119.27" y="82.5" width="3.4" height="11.5"/>
<polygon points="1117.97,84.5 1120.97,80.8 1123.97,84.5"/>
<rect x="1126.74" y="82.5" width="3.4" height="11.5"/>
<polygon points="1125.44,84.5 1128.44,80.8 1131.44,84.5"/>
<rect x="1134.21" y="82.5" width="3.4" height="11.5"/>
<polygon points="1132.91,84.5 1135.91,80.8 1138.91,84.5"/>
<rect x="1141.68" y="82.5" width="3.4" height="11.5"/>
<polygon points="1140.38,84.5 1143.38,80.8 1146.38,84.5"/>
<rect x="1149.15" y="82.5" width="3.4" height="11.5"/>
<polygon points="1147.85,84.5 1150.85,80.8 1153.85,84.5"/>
<rect x="1156.62" y="82.5" width="3.4" height="11.5"/>
<polygon points="1155.32,84.5 1158.32,80.8 1161.32,84.5"/>
<rect x="1164.09" y="82.5" width="3.4" height="11.5"/>
<polygon points="1162.79,84.5 1165.79,80.8 1168.79,84.5"/>
<rect x="1171.56" y="82.5" width="3.4" height="11.5"/>
<polygon points="1170.26,84.5 1173.26,80.8 1176.26,84.5"/>
<rect x="1179.03" y="82.5" width="3.4" height="11.5"/>
<polygon points="1177.73,84.5 1180.73,80.8 1183.73,84.5"/>
<rect x="1186.5" y="82.5" width="3.4" height="11.5"/>
<polygon points="1185.2,84.5 1188.2,80.8 1191.2,84.5"/>
<rect x="1193.97" y="82.5" width="3.4" height="11.5"/>
<polygon points="1192.67,84.5 1195.67,80.8 1198.67,84.5"/>
<rect x="1201.44" y="82.5" width="3.4" height="11.5"/>
<polygon points="1200.14,84.5 1203.14,80.8 1206.14,84.5"/>
</g>
<rect x="0" y="514" width="1332" height="1" fill="#8e8e8e"/>
<rect x="1226.5" y="43" width="1" height="598" fill="#e6e6e6"/>
<rect x="0" y="641" width="1332" height="1" fill="#e4e4e4"/>
<rect x="124.5" y="641" width="1" height="4" fill="#dedede"/>
<rect x="265" y="641" width="1" height="4" fill="#dedede"/>
<rect x="427.1" y="641" width="1" height="4" fill="#dedede"/>
<rect x="573.7" y="641" width="1" height="4" fill="#dedede"/>
<rect x="742.9" y="641" width="1" height="4" fill="#dedede"/>
<rect x="899.2" y="641" width="1" height="4" fill="#dedede"/>
<rect x="1061.9" y="641" width="1" height="4" fill="#dedede"/>
<rect x="0" y="0" width="1332" height="2.5" fill="#e7e7e7"/>
<rect x="0" y="672.5" width="1332" height="2.5" fill="#e7e7e7"/>
<polygon points="282.57,11.53 282.56,9.11 285.24,9.11 285.23,11.53 286.76,12.16 288.46,10.45 290.35,12.34 288.64,14.04 289.27,15.57 291.69,15.56 291.69,18.24 289.27,18.23 288.64,19.76 290.35,21.46 288.46,23.35 286.76,21.64 285.23,22.27 285.24,24.69 282.56,24.69 282.57,22.27 281.04,21.64 279.34,23.35 277.45,21.46 279.16,19.76 278.53,18.23 276.11,18.24 276.11,15.56 278.53,15.57 279.16,14.04 277.45,12.34 279.34,10.45 281.04,12.16" fill="#6f737c"/><circle cx="283.9" cy="16.9" r="2.05" fill="#f3f3f3"/>
<circle cx="302.7" cy="16.8" r="7.8" fill="#6f737c"/><path d="M299.74,13.84 L305.66,19.76 M305.66,13.84 L299.74,19.76" stroke="#f3f3f3" stroke-width="2.6" stroke-linecap="round"/>
<polygon points="1177.98,525.38 1177.98,522.63 1181.02,522.63 1181.02,525.38 1182.75,526.1 1184.7,524.15 1186.85,526.3 1184.9,528.25 1185.62,529.98 1188.37,529.98 1188.37,533.02 1185.62,533.02 1184.9,534.75 1186.85,536.7 1184.7,538.85 1182.75,536.9 1181.02,537.62 1181.02,540.37 1177.98,540.37 1177.98,537.62 1176.25,536.9 1174.3,538.85 1172.15,536.7 1174.1,534.75 1173.38,533.02 1170.63,533.02 1170.63,529.98 1173.38,529.98 1174.1,528.25 1172.15,526.3 1174.3,524.15 1176.25,526.1" fill="#6f737c"/><circle cx="1179.5" cy="531.5" r="2.34" fill="#f3f3f3"/>
<circle cx="1206.5" cy="531.5" r="9" fill="#6f737c"/><path d="M1203.08,528.08 L1209.92,534.92 M1209.92,528.08 L1203.08,534.92" stroke="#f3f3f3" stroke-width="2.6" stroke-linecap="round"/>
<polygon points="255,14.8 261.5,17.7 255,20.6" fill="#5a5a5a"/>
<polyline points="1205,16.5 1209.2,19.8 1213.4,16.5" fill="none" stroke="#8a8a8a" stroke-width="1.4"/>
<g transform="translate(1209.8,42.5) rotate(45)" fill="#8e8e8e"><rect x="-5.5" y="-1.5" width="11" height="3"/><polygon points="-3.5,1.5 3.5,1.5 3.2,11 -3.2,11"/><polygon points="-3.2,11 3.2,11 7,14.5 -7,14.5"/><polygon points="-0.8,14.5 0.8,14.5 0.3,24.8 -0.3,24.8"/></g>
<rect x="11.5" y="648.5" width="21" height="21.5" rx="3" fill="#f6f6f6" stroke="#d6d6d6" stroke-width="1"/>
<path d="M27,653.6 L21.4,659.3 L27,665 M21.1,653.6 L15.3,659.3 L21.1,665" fill="none" stroke="#c6c6c6" stroke-width="1.2"/>
<rect x="1310.5" y="648.5" width="20.5" height="21.5" rx="3" fill="#f6f6f6" stroke="#d6d6d6" stroke-width="1"/>
<path d="M1314.6,653.7 L1320.2,659.4 L1314.6,665 M1320.2,653.7 L1326.3,659.4 L1320.2,665" fill="none" stroke="#c6c6c6" stroke-width="1.2"/>
<path d="M494.6,8 L494.6,23.3 M491.3,19.2 L494.6,23.3 L497.9,19.2" fill="none" stroke="#4f4f57" stroke-width="1.3"/>
<path d="M650.1,8 L650.1,23.3 M646.8,19.2 L650.1,23.3 L653.4,19.2" fill="none" stroke="#d63ede" stroke-width="1.3"/>
<path d="M806.5,8.3 L806.5,23.6 M803.2,12.4 L806.5,8.3 L809.8,12.4" fill="none" stroke="#a3a3a3" stroke-width="1.3"/>
<path d="M961.7,8.3 L961.7,23.6 M958.4,12.4 L961.7,8.3 L965,12.4" fill="none" stroke="#6d1717" stroke-width="1.3"/>
</svg>
<div class="t" style="left:19.6px;top:6.5px;color:#5d5d66;font-size:18px;">澳大利亚标普</div>
<div class="t" style="left:127.5px;top:6.5px;color:#5d5d66;font-size:18px;letter-spacing:1px;">200</div>
<div class="t" style="left:160px;top:6.5px;color:#5d5d66;font-size:18px;">指数</div>
<div class="t" style="left:197.5px;top:6.5px;color:#5d5d66;font-size:18px;">(日线)</div>
<div class="t" style="left:319.8px;top:5px;color:#55555c;font-size:18px;">MA</div>
<div class="t" style="left:359.5px;top:5px;color:#4f4f57;font-size:18px;letter-spacing:0.45px;">MA5:9009.220</div>
<div class="t" style="left:505.2px;top:5px;color:#d63ede;font-size:18px;letter-spacing:0.47px;">MA10:9026.640</div>
<div class="t" style="left:660.9px;top:5px;color:#a3a3a3;font-size:18px;letter-spacing:0.47px;">MA20:8989.335</div>
<div class="t" style="left:817.4px;top:5px;color:#6d1717;font-size:18px;letter-spacing:0.47px;">MA30:8928.157</div>
<div class="t" style="left:1126.2px;top:5px;color:#2a2a2e;font-size:18px;">设置均线</div>
<div class="t" style="left:19.6px;top:38px;color:#1f9a50;font-size:18px;letter-spacing:0.35px;">8926.20 -0.96%</div>
<div class="t" style="left:931.6px;top:37px;color:#5a5a5a;font-size:19px;letter-spacing:0.27px;text-decoration:underline;text-decoration-skip-ink:none;text-decoration-thickness:1.5px;text-underline-offset:2px;">2025/3/10-2025/10/29(164根)</div>
<div class="t ra" style="top:100.5px;color:#62626a;font-size:18px;letter-spacing:0.6px;margin-right:-0.6px">9115.20</div>
<div class="t ra" style="top:153px;color:#62626a;font-size:18px;letter-spacing:0.6px;margin-right:-0.6px">8837.20</div>
<div class="t ra" style="top:206.97px;color:#62626a;font-size:18px;letter-spacing:0.6px;margin-right:-0.6px">8559.20</div>
<div class="t ra" style="top:260.93px;color:#62626a;font-size:18px;letter-spacing:0.6px;margin-right:-0.6px">8281.20</div>
<div class="t ra" style="top:314.9px;color:#62626a;font-size:18px;letter-spacing:0.6px;margin-right:-0.6px">8003.20</div>
<div class="t ra" style="top:368.87px;color:#62626a;font-size:18px;letter-spacing:0.6px;margin-right:-0.6px">7725.20</div>
<div class="t ra" style="top:422.83px;color:#62626a;font-size:18px;letter-spacing:0.6px;margin-right:-0.6px">7447.20</div>
<div class="t ra" style="top:476.8px;color:#62626a;font-size:18px;letter-spacing:0.6px;margin-right:-0.6px">7169.20</div>
<div class="t ra" style="top:536px;color:#62626a;font-size:18px">0.00</div>
<div class="t ra" style="top:612.2px;color:#62626a;font-size:18px">0.00</div>
<div class="t" style="left:180.5px;top:463px;color:#22222c;font-size:18px;letter-spacing:0.3px;">7169.20</div>
<div class="t" style="left:1072px;top:115px;color:#22222c;font-size:18px;letter-spacing:0.4px;">9115.20</div>
<div class="t" style="left:16.2px;top:520px;color:#5c5c64;font-size:18px;">VOL(5,10)</div>
<div class="t" style="left:112.6px;top:520px;color:#5c5c64;font-size:18px;letter-spacing:0.2px;">VOLUME:0.000</div>
<div class="t" style="left:250px;top:519px;color:#5c5c64;font-size:18px;">−</div>
<div class="t" style="left:270.7px;top:520px;color:#d63ede;font-size:18px;letter-spacing:0.45px;">MAVOL1:0.000</div>
<div class="t" style="left:405.5px;top:519px;color:#d63ede;font-size:18px;">−</div>
<div class="t" style="left:427.2px;top:520px;color:#a3a3a3;font-size:18px;letter-spacing:0.4px;">MAVOL2:0.000</div>
<div class="t" style="left:561.2px;top:519px;color:#a3a3a3;font-size:18px;">−</div>
<div class="t" style="left:1046.1px;top:518.5px;color:#5c5c64;font-size:18px;">加指标</div>
<div class="t" style="left:1107.5px;top:518.5px;color:#5c5c64;font-size:18px;">换指标</div>
<div class="t" style="left:130.4px;top:652px;color:#5c5c64;font-size:18px;">04</div>
<div class="t" style="left:270.3px;top:652px;color:#5c5c64;font-size:18px;">05</div>
<div class="t" style="left:432.4px;top:652px;color:#5c5c64;font-size:18px;">06</div>
<div class="t" style="left:579.7px;top:652px;color:#5c5c64;font-size:18px;">07</div>
<div class="t" style="left:748px;top:652px;color:#5c5c64;font-size:18px;">08</div>
<div class="t" style="left:904px;top:652px;color:#5c5c64;font-size:18px;">09</div>
<div class="t" style="left:1066.7px;top:652px;color:#5c5c64;font-size:18px;">10</div>
</body></html>
